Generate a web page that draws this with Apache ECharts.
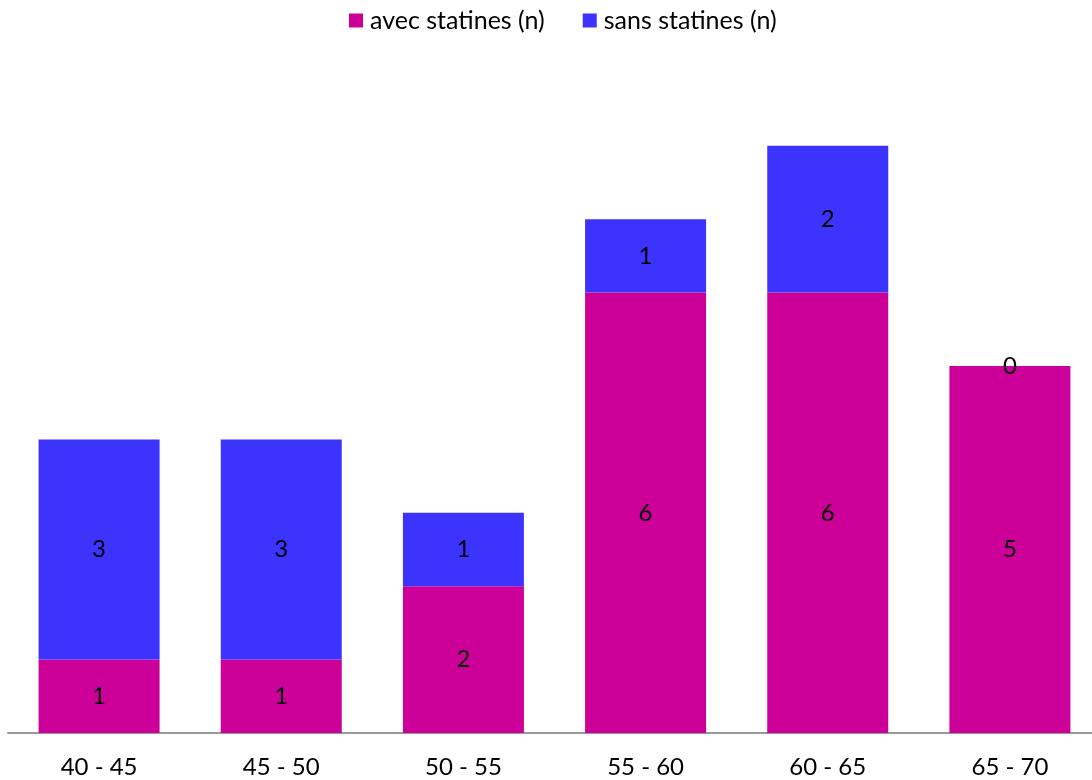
<!DOCTYPE html>
<html>
<head>
<meta charset="utf-8">
<script src="https://cdn.jsdelivr.net/npm/echarts@6/dist/echarts.min.js"></script>
<style>
  html, body { margin: 0; padding: 0; background: #fff; overflow: hidden; width: 1092px; height: 780px; }
  /* the plot runs slightly past the right edge of the page */
  #chart { width: 1101px; height: 780px; }
</style>
</head>
<body>
<div id="chart"></div>
<script>
// Age groups and patient counts per group
const categories = ['40 - 45', '45 - 50', '50 - 55', '55 - 60', '60 - 65', '65 - 70'];
const avecStatines = [1, 1, 2, 6, 6, 5];
const sansStatines = [3, 3, 1, 1, 2, 0];
const seriesNames = ['avec statines (n)', 'sans statines (n)'];

const FONT = 'Lato, "Open Sans", sans-serif';

const chart = echarts.init(document.getElementById('chart'));

const labelStyle = {
  show: true,
  position: 'inside',
  color: '#000',
  fontFamily: FONT,
  fontSize: 24
};

chart.setOption({
  animation: false,
  legend: {
    top: 3,
    left: 344,
    itemWidth: 14,
    itemHeight: 14,
    itemGap: 38,
    icon: 'rect',
    textStyle: { fontFamily: FONT, fontSize: 25, color: '#000', padding: [0, 0, 0, 2] },
    data: seriesNames
  },
  grid: { left: 8, right: 0, top: 72.4, bottom: 47, containLabel: false },
  xAxis: {
    type: 'category',
    data: categories,
    axisLine: { lineStyle: { color: '#999', width: 2 } },
    axisTick: { show: false },
    axisLabel: { color: '#000', fontFamily: FONT, fontSize: 24, margin: 22 }
  },
  yAxis: {
    type: 'value',
    min: 0,
    max: 9,
    interval: 1,
    show: false,
    splitLine: { show: false }
  },
  series: [
    {
      name: seriesNames[0],
      type: 'bar',
      stack: 'total',
      barWidth: 121,
      data: avecStatines,
      itemStyle: { color: '#CC0099' },
      label: labelStyle
    },
    {
      name: seriesNames[1],
      type: 'bar',
      stack: 'total',
      barWidth: 121,
      data: sansStatines,
      itemStyle: { color: '#3C33FF' },
      label: labelStyle
    }
  ]
});
</script>
</body>
</html>
